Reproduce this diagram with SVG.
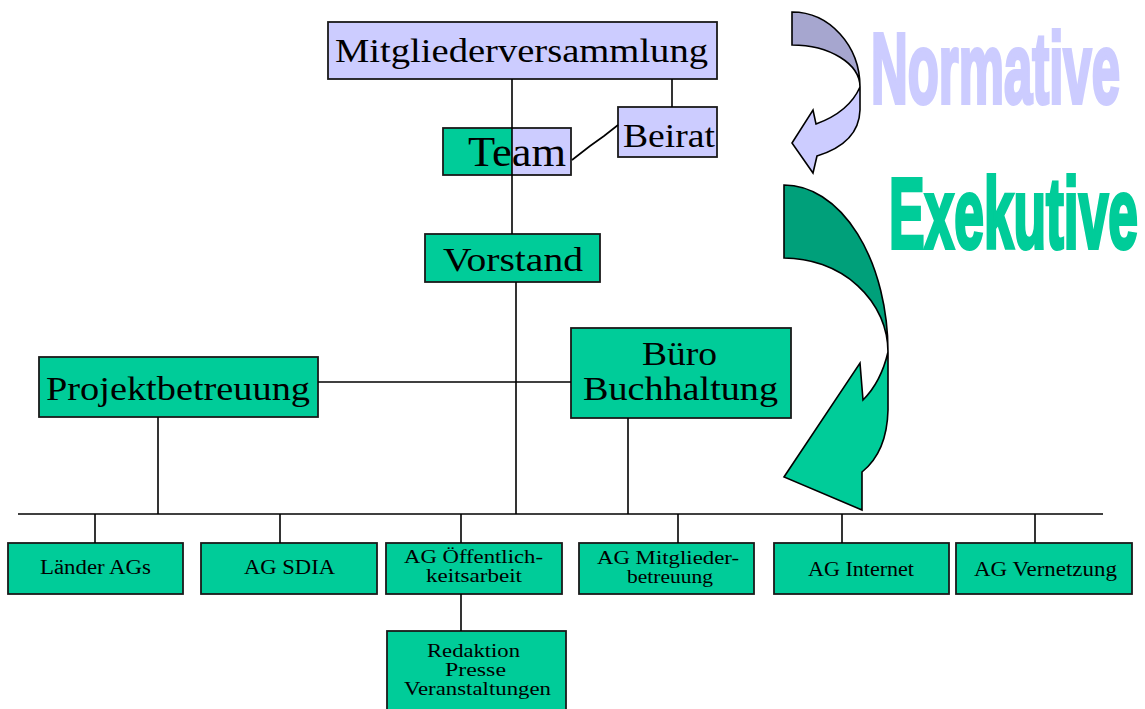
<svg xmlns="http://www.w3.org/2000/svg" width="1145" height="709" viewBox="0 0 1145 709">
<style>
.g{fill:#00CC99;stroke:#1a1a1a;stroke-width:1.8}
.l{fill:#CCCCFF;stroke:#1a1a1a;stroke-width:1.8}
.t{font-family:"Liberation Serif","Times New Roman",serif;font-size:33px;fill:#000;text-anchor:middle}
.s{font-family:"Liberation Serif","Times New Roman",serif;font-size:20px;fill:#000;text-anchor:middle}
.s2{font-family:"Liberation Serif","Times New Roman",serif;font-size:18px;fill:#000;text-anchor:middle}
.c line,.c polyline{stroke:#000;stroke-width:1.6;fill:none}
.big{font-family:"Liberation Sans",Arial,sans-serif;font-weight:bold;font-size:100px}
.ar{stroke:#000;stroke-width:1.6;stroke-linejoin:miter}
</style>
<rect width="1145" height="709" fill="#fff"/>

<g id="arrow-normative">
<path class="ar" fill="#A6A6CF" d="M792,12 A68 75 0 0 1 860,87 A68 42 0 0 0 792,45 Z"/>
<path class="ar" fill="#CCCCFF" d="M860,87 L860,110 Q859,143 817,156 L813,173 L792,143 L813,110 L816,124 Q849,112 860,87 Z"/>
</g>
<g id="arrow-exekutive">
<path class="ar" fill="#00A07A" d="M784,185 A104 167 0 0 1 888,352 A104 94 0 0 0 784,258 Z"/>
<path class="ar" fill="#00CC99" d="M888,352 L888,410 Q887,452 862,472 L862,510 L784,477 L860,363 L863,400 Q881,382 888,352 Z"/>
</g>
<g id="label-normative">
<text class="big" x="871" y="103" fill="#CCCCFF" stroke="#CCCCFF" stroke-width="4" textLength="249" lengthAdjust="spacingAndGlyphs">Normative</text>
</g>
<g id="label-exekutive">
<text class="big" x="889" y="248" fill="#00CC99" stroke="#00CC99" stroke-width="4" textLength="249" lengthAdjust="spacingAndGlyphs">Exekutive</text>
</g>

<g id="mitgliederversammlung">
<rect class="l" x="328" y="22" width="389" height="57"/>
<text class="t" x="521.5" y="62" textLength="373" lengthAdjust="spacingAndGlyphs">Mitgliederversammlung</text>
</g>
<g id="beirat">
<rect class="l" x="618" y="107" width="99" height="50"/>
<text class="t" x="669" y="147" textLength="92" lengthAdjust="spacingAndGlyphs">Beirat</text>
</g>
<g id="team">
<rect x="443" y="128" width="69" height="47" fill="#00CC99"/>
<rect x="512" y="128" width="59" height="47" fill="#CCCCFF"/>
<rect x="443" y="128" width="128" height="47" fill="none" stroke="#1a1a1a" stroke-width="1.8"/>
<text x="468" y="166" font-family="Liberation Serif,'Times New Roman',serif" font-size="43" fill="#000" textLength="98" lengthAdjust="spacingAndGlyphs">Team</text>
</g>
<g id="vorstand">
<rect class="g" x="425" y="234" width="175" height="48"/>
<text class="t" x="513" y="271" textLength="140" lengthAdjust="spacingAndGlyphs">Vorstand</text>
</g>
<g id="projektbetreuung">
<rect class="g" x="39" y="357" width="279" height="60"/>
<text class="t" x="178" y="400" textLength="264" lengthAdjust="spacingAndGlyphs">Projektbetreuung</text>
</g>
<g id="buero">
<rect class="g" x="571" y="328" width="220" height="90"/>
<text class="t" x="679.5" y="365" textLength="75" lengthAdjust="spacingAndGlyphs">Büro</text>
<text class="t" x="680.5" y="400" textLength="195" lengthAdjust="spacingAndGlyphs">Buchhaltung</text>
</g>

<g id="laender-ags">
<rect class="g" x="8" y="543" width="175" height="51"/>
<text class="s" x="95.5" y="574" textLength="111" lengthAdjust="spacingAndGlyphs">Länder AGs</text>
</g>
<g id="ag-sdia">
<rect class="g" x="201" y="543" width="176" height="51"/>
<text class="s" x="289.5" y="574" textLength="91" lengthAdjust="spacingAndGlyphs">AG SDIA</text>
</g>
<g id="ag-oeffentlichkeitsarbeit">
<rect class="g" x="386" y="543" width="176" height="51"/>
<text class="s2" x="473.5" y="563" textLength="139" lengthAdjust="spacingAndGlyphs">AG Öffentlich-</text>
<text class="s2" x="474" y="582" textLength="96" lengthAdjust="spacingAndGlyphs">keitsarbeit</text>
</g>
<g id="ag-mitgliederbetreuung">
<rect class="g" x="579" y="543" width="175" height="51"/>
<text class="s2" x="668" y="564" textLength="142" lengthAdjust="spacingAndGlyphs">AG Mitglieder-</text>
<text class="s2" x="670" y="583" textLength="86" lengthAdjust="spacingAndGlyphs">betreuung</text>
</g>
<g id="ag-internet">
<rect class="g" x="774" y="543" width="175" height="51"/>
<text class="s" x="861" y="576" textLength="106" lengthAdjust="spacingAndGlyphs">AG Internet</text>
</g>
<g id="ag-vernetzung">
<rect class="g" x="956" y="543" width="176" height="51"/>
<text class="s" x="1045.5" y="576" textLength="143" lengthAdjust="spacingAndGlyphs">AG Vernetzung</text>
</g>
<g id="redaktion">
<rect class="g" x="387" y="631" width="179" height="82"/>
<text class="s2" x="473.5" y="657" textLength="93" lengthAdjust="spacingAndGlyphs">Redaktion</text>
<text class="s2" x="475.5" y="676" textLength="61" lengthAdjust="spacingAndGlyphs">Presse</text>
<text class="s2" x="477.5" y="695" textLength="147" lengthAdjust="spacingAndGlyphs">Veranstaltungen</text>
</g>

<g id="connectors" class="c">
<line x1="512" y1="79" x2="512" y2="234"/>
<line x1="672" y1="79" x2="672" y2="107"/>
<polyline points="572,160 590,146 604,136 618,125"/>
<line x1="516" y1="282" x2="516" y2="514"/>
<line x1="318" y1="382" x2="571" y2="382"/>
<line x1="158" y1="417" x2="158" y2="514"/>
<line x1="628" y1="418" x2="628" y2="514"/>
<line x1="18" y1="514" x2="1103" y2="514"/>
<line x1="95" y1="514" x2="95" y2="543"/>
<line x1="280" y1="514" x2="280" y2="543"/>
<line x1="461" y1="514" x2="461" y2="543"/>
<line x1="678" y1="514" x2="678" y2="543"/>
<line x1="842" y1="514" x2="842" y2="543"/>
<line x1="1035" y1="514" x2="1035" y2="543"/>
<line x1="461" y1="594" x2="461" y2="631"/>
</g>
</svg>
